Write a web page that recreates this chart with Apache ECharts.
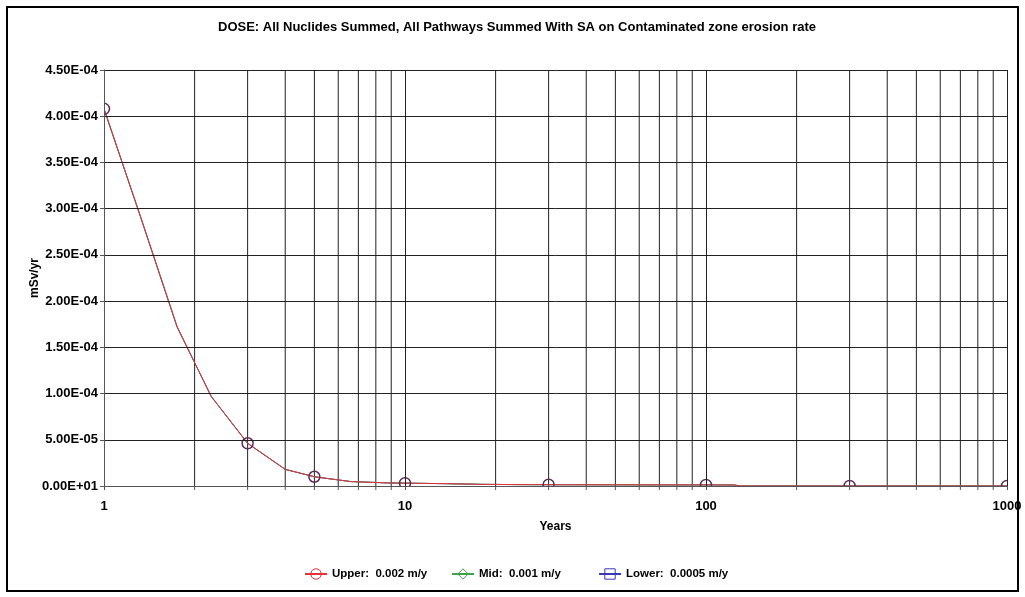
<!DOCTYPE html>
<html>
<head>
<meta charset="utf-8">
<script src="https://cdn.jsdelivr.net/npm/echarts@6/dist/echarts.min.js"></script>
<style>
  html, body { margin: 0; padding: 0; background: #ffffff; }
  #chart { width: 1025px; height: 597px; }
</style>
</head>
<body>
<div id="chart"></div>
<script>
// Time points (years) of the computed dose curves
const years = [1, 1.32, 1.75, 2.27, 3, 4, 5, 6.6, 8.8, 10, 13.7, 18, 24, 30, 50, 75, 100, 124, 130, 300, 1000];

// Total dose (mSv/yr) for each contaminated zone erosion rate
const upperDose = [4.08e-4, 2.92e-4, 1.72e-4, 9.7e-5, 4.62e-5, 1.8e-5, 1.0e-5, 4.8e-6, 3.3e-6, 3.1e-6,
                   2.5e-6, 1.8e-6, 1.5e-6, 1.4e-6, 1.3e-6, 1.2e-6, 1.2e-6, 1.1e-6, 5e-8, 5e-8, 2e-8];
const midDose   = [4.08e-4, 2.92e-4, 1.72e-4, 9.7e-5, 4.62e-5, 1.8e-5, 1.0e-5, 4.8e-6, 3.3e-6, 3.1e-6,
                   2.5e-6, 1.8e-6, 1.5e-6, 1.4e-6, 1.3e-6, 1.2e-6, 1.2e-6, 1.1e-6, 5e-8, 5e-8, 2e-8];
const lowerDose = [4.08e-4, 2.92e-4, 1.72e-4, 9.7e-5, 4.62e-5, 1.8e-5, 1.0e-5, 4.8e-6, 3.3e-6, 3.1e-6,
                   2.5e-6, 1.8e-6, 1.5e-6, 1.4e-6, 1.3e-6, 1.2e-6, 1.2e-6, 1.1e-6, 5e-8, 5e-8, 2e-8];

// Years at which the case symbols are plotted
const markerYears = [1, 3, 5, 10, 30, 100, 300, 1000];

// Intermediate gridlines of the logarithmic time axis
const minorYears = [2, 3, 4, 5, 6, 7, 8, 9, 20, 30, 40, 50, 60, 70, 80, 90, 200, 300, 400, 500, 600, 700, 800, 900];

// Tick labels
const xTickLabels = ['1', '10', '100', '1000'];
const yTickLabels = ['0.00E+01', '5.00E-05', '1.00E-04', '1.50E-04', '2.00E-04',
                     '2.50E-04', '3.00E-04', '3.50E-04', '4.00E-04', '4.50E-04'];

const caseNames = ['Upper:  0.002 m/y', 'Mid:  0.001 m/y', 'Lower:  0.0005 m/y'];

const titleText = 'DOSE: All Nuclides Summed, All Pathways Summed With SA on Contaminated zone erosion rate';

const X_MIN = 1, X_MAX = 1000;
const Y_MIN = 0, Y_MAX = 4.5e-4, Y_STEP = 5e-5;
const FONT = '"Liberation Sans", Arial, sans-serif';
const RED = '#e2323c', GREEN = '#3fa34a', BLUE = '#3a3ab8';
const GRID_COLOR = '#222222', AXIS_COLOR = '#555555';

function curve(values, withMarkers) {
  return years.map((t, i) => ({
    value: [t, values[i]],
    symbol: withMarkers && markerYears.indexOf(t) >= 0 ? 'circle' : 'none'
  }));
}

// Minor vertical gridlines through the whole plot
function minorGridLine(params, api) {
  const top = api.coord([api.value(0), Y_MAX]);
  const bottom = api.coord([api.value(0), Y_MIN]);
  return {
    type: 'line',
    shape: { x1: top[0], y1: top[1], x2: bottom[0], y2: bottom[1] },
    style: { stroke: GRID_COLOR, lineWidth: 1 }
  };
}

// Minor tick marks below the time axis
function minorTickMark(params, api) {
  const p = api.coord([api.value(0), Y_MIN]);
  return {
    type: 'line',
    shape: { x1: p[0], y1: p[1], x2: p[0], y2: p[1] + 4 },
    style: { stroke: AXIS_COLOR, lineWidth: 1 }
  };
}

// White margins around the plot rectangle, so that symbols are cut at its edges
function plotMargins(params, api) {
  const tl = api.coord([X_MIN, Y_MAX]);
  const br = api.coord([X_MAX, Y_MIN]);
  const fill = { fill: '#ffffff' };
  return {
    type: 'group',
    children: [
      { type: 'rect', shape: { x: tl[0] - 40, y: tl[1] - 10, width: 40, height: br[1] - tl[1] + 24 }, style: fill },
      { type: 'rect', shape: { x: tl[0] - 40, y: br[1] + 0.5, width: br[0] - tl[0] + 50, height: 12 }, style: fill },
      { type: 'rect', shape: { x: br[0] + 1, y: tl[1] - 10, width: 9, height: br[1] - tl[1] + 24 }, style: fill }
    ]
  };
}

const chart = echarts.init(document.getElementById('chart'), null, { renderer: 'canvas' });

const legendLeft = [304, 451, 598];
const legendIconStyle = [
  { color: 'rgba(0,0,0,0)', borderColor: RED, borderWidth: 1 },
  { color: 'rgba(0,0,0,0)', borderColor: GREEN, borderWidth: 1 },
  { color: 'rgba(0,0,0,0)', borderColor: BLUE, borderWidth: 1 }
];

const option = {
  animation: false,
  backgroundColor: '#ffffff',
  textStyle: { fontFamily: FONT },
  title: {
    text: titleText,
    left: 218,
    top: 21,
    padding: 0,
    textStyle: { fontFamily: FONT, fontSize: 13, fontWeight: 'bold', color: '#000' }
  },
  grid: { left: 104, top: 70, width: 903, height: 416, containLabel: false },
  legend: caseNames.map((name, i) => ({
    data: [{ name: name, itemStyle: legendIconStyle[i] }],
    left: legendLeft[i],
    top: 568,
    padding: 0,
    itemWidth: 22,
    itemHeight: 13,
    selectedMode: false,
    textStyle: { fontFamily: FONT, fontSize: 11.5, fontWeight: 'bold', color: '#000' }
  })),
  xAxis: {
    type: 'log',
    logBase: 10,
    min: X_MIN,
    max: X_MAX,
    z: 10,
    name: 'Years',
    nameLocation: 'middle',
    nameGap: 35,
    nameMoveOverlap: false,
    nameTextStyle: { fontFamily: FONT, fontSize: 12, fontWeight: 'bold', color: '#000' },
    axisLine: { show: true, lineStyle: { color: AXIS_COLOR, width: 1 } },
    axisTick: { show: true, length: 4, lineStyle: { color: AXIS_COLOR } },
    minorTick: { show: false },
    axisLabel: {
      margin: 14,
      fontFamily: FONT, fontSize: 13, fontWeight: 'bold', color: '#000',
      formatter: (v, idx) => xTickLabels[idx] !== undefined ? xTickLabels[idx] : ''
    },
    splitLine: { show: true, lineStyle: { color: GRID_COLOR, width: 1 } }
  },
  yAxis: {
    type: 'value',
    min: Y_MIN,
    max: Y_MAX,
    interval: Y_STEP,
    z: 10,
    name: 'mSv/yr',
    nameLocation: 'middle',
    nameGap: 63,
    nameMoveOverlap: false,
    nameTextStyle: { fontFamily: FONT, fontSize: 12, fontWeight: 'bold', color: '#000' },
    axisLine: { show: true, lineStyle: { color: AXIS_COLOR, width: 1 } },
    axisTick: { show: true, length: 4, lineStyle: { color: AXIS_COLOR } },
    axisLabel: {
      margin: 6,
      fontFamily: FONT, fontSize: 13, fontWeight: 'bold', color: '#000',
      formatter: (v, idx) => yTickLabels[idx] !== undefined ? yTickLabels[idx] : ''
    },
    splitLine: { show: true, lineStyle: { color: GRID_COLOR, width: 1 } }
  },
  graphic: [
    { type: 'rect', z: 20, silent: true, shape: { x: 7, y: 7, width: 1011, height: 584 },
      style: { fill: 'none', stroke: '#000', lineWidth: 2 } }
  ],
  series: [
    {
      name: caseNames[0],
      type: 'line',
      z: 4,
      data: curve(upperDose, true),
      symbol: 'circle',
      symbolSize: 11,
      showSymbol: true,
      lineStyle: { color: RED, width: 1 },
      itemStyle: { color: 'rgba(0,0,0,0)', borderColor: '#5e2b5a', borderWidth: 1.5 }
    },
    {
      name: caseNames[1],
      type: 'line',
      z: 3,
      data: curve(midDose, false),
      symbol: 'diamond',
      symbolSize: 11,
      showSymbol: false,
      lineStyle: { color: GREEN, width: 1 },
      itemStyle: { color: 'rgba(0,0,0,0)', borderColor: GREEN, borderWidth: 1 }
    },
    {
      name: caseNames[2],
      type: 'line',
      z: 2,
      data: curve(lowerDose, false),
      symbol: 'rect',
      symbolSize: 11,
      showSymbol: false,
      lineStyle: { color: BLUE, width: 1 },
      itemStyle: { color: 'rgba(0,0,0,0)', borderColor: BLUE, borderWidth: 1 }
    },
    {
      name: 'minor grid',
      type: 'custom',
      z: 1,
      silent: true,
      data: minorYears.map(t => [t]),
      encode: { x: 0 },
      renderItem: minorGridLine
    },
    {
      name: 'plot margins',
      type: 'custom',
      z: 5,
      silent: true,
      data: [[X_MIN, Y_MIN]],
      encode: { x: 0, y: 1 },
      renderItem: plotMargins
    },
    {
      name: 'minor ticks',
      type: 'custom',
      z: 11,
      silent: true,
      data: minorYears.map(t => [t]),
      encode: { x: 0 },
      renderItem: minorTickMark
    }
  ]
};

chart.setOption(option);
</script>
</body>
</html>
